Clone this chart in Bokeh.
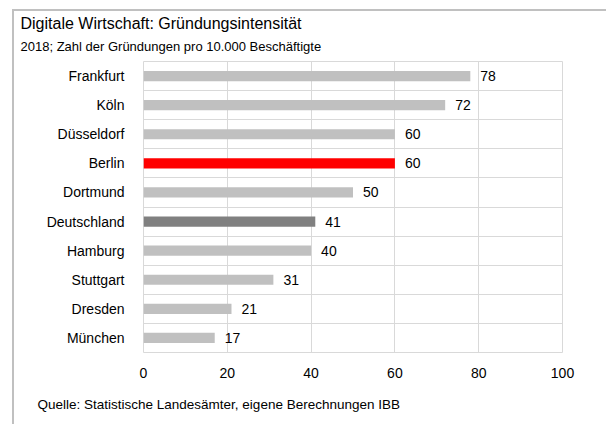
from bokeh.plotting import figure
from bokeh.models import ColumnDataSource, FixedTicker, LabelSet, Title
from bokeh.core.properties import value
from bokeh.embed import file_html
from bokeh.resources import INLINE

# ---- data ----
cities = ["Frankfurt", "Köln", "Düsseldorf", "Berlin", "Dortmund",
          "Deutschland", "Hamburg", "Stuttgart", "Dresden", "München"]
values = [78, 72, 60, 60, 50, 41, 40, 31, 21, 17]
x_ticks = [0, 20, 40, 60, 80, 100]
highlight = {"Berlin": "#ff0000", "Deutschland": "#808080"}

title_text = "Digitale Wirtschaft:  Gründungsintensität"
subtitle_text = "2018; Zahl der Gründungen  pro 10.000  Beschäftigte"
source_text = "Quelle:  Statistische Landesämter,  eigene  Berechnungen  IBB"

FONT = "Liberation Sans"
N = len(cities)
pos = [N - 1 - i for i in range(N)]
colors = [highlight.get(c, "#c0c0c0") for c in cities]

src = ColumnDataSource(dict(
    city=cities, value=values, pos=pos, color=colors,
    label=[str(v) for v in values],
))

p = figure(width=594, height=415, x_range=(0, 100), y_range=(-0.5, N - 0.5),
           output_backend="svg", toolbar_location=None,
           min_border_left=129, min_border_right=46,
           min_border_top=50, min_border_bottom=73)
p.styles = {"position": "absolute", "left": "12px", "top": "9px",
            "border-left": "2px solid #c0c0c0", "border-top": "2px solid #c0c0c0"}

p.hbar(y="pos", left=0, right="value", height=0.35, fill_color="color",
       line_color=None, source=src)

p.add_layout(LabelSet(x="value", y="pos", text="label", x_offset=10,
                      text_baseline="middle", text_font=value(FONT),
                      text_font_size="14px", text_color="#000000", source=src))

# grids
p.xgrid.ticker = FixedTicker(ticks=x_ticks)
p.ygrid.ticker = FixedTicker(ticks=[k - 0.5 for k in range(N + 1)])
for g in (p.xgrid, p.ygrid):
    g.grid_line_color = "#d9d9d9"
    g.grid_line_width = 1
p.outline_line_color = "#d9d9d9"

# axes
p.xaxis.ticker = FixedTicker(ticks=x_ticks)
p.yaxis.ticker = FixedTicker(ticks=pos)
p.yaxis.major_label_overrides = {pp: c for pp, c in zip(pos, cities)}
for ax in (p.xaxis, p.yaxis):
    ax.axis_line_color = None
    ax.major_tick_line_color = None
    ax.minor_tick_line_color = None
    ax.major_label_text_font = FONT
    ax.major_label_text_font_size = "14px"
    ax.major_label_text_color = "#000000"
p.xaxis.major_label_standoff = 9
p.yaxis.major_label_standoff = 13

# titles and source
p.add_layout(Title(text=subtitle_text, align="left", offset=-123, standoff=16,
                   text_font=FONT, text_font_size="13px",
                   text_font_style="normal", text_color="#000000"), "above")
p.add_layout(Title(text=title_text, align="left", offset=-123, standoff=-7,
                   text_font=FONT, text_font_size="16px",
                   text_font_style="normal", text_color="#000000"), "above")
p.add_layout(Title(text=source_text, align="left", offset=-106, standoff=29,
                   text_font=FONT, text_font_size="13.5px",
                   text_font_style="normal", text_color="#000000"), "below")

p.background_fill_color = "white"
p.border_fill_color = "white"

open("out.html", "w").write(file_html(p, INLINE))
